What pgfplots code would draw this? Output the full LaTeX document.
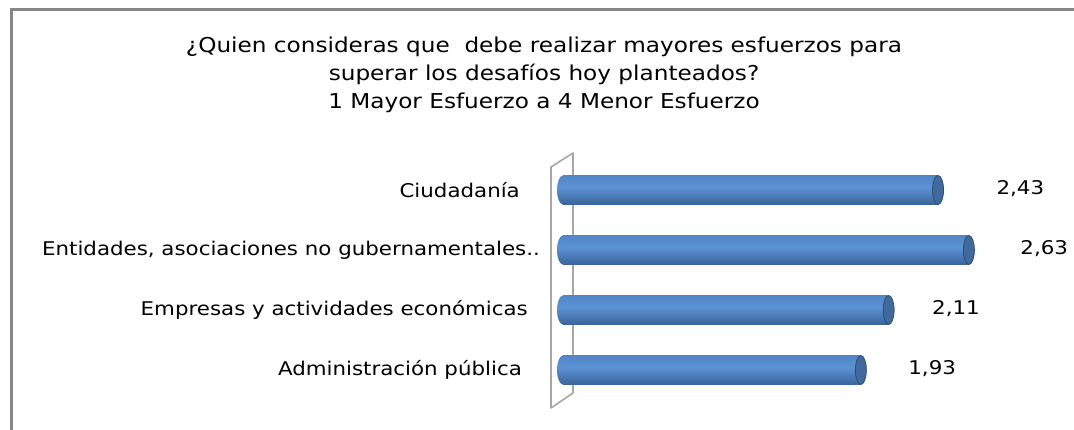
\documentclass[border=0pt]{standalone}
\usepackage{pgfplots}
\pgfplotsset{compat=1.18}
\usepackage{fontspec}
\setmainfont[FakeStretch=1.13]{DejaVu Sans}
\definecolor{bardark}{HTML}{1F3A60}
\definecolor{barlow}{HTML}{345C8F}
\definecolor{barlight}{HTML}{5C93D6}
\definecolor{barmid}{HTML}{4E82C2}
\definecolor{bartop}{HTML}{3A6294}
\definecolor{capcol}{HTML}{41699C}
\definecolor{capdark}{HTML}{2C4D78}
\definecolor{framegray}{HTML}{878787}
\definecolor{wallgray}{HTML}{A6A6A6}
\pgfdeclareverticalshading{cyl}{100bp}{color(0bp)=(bardark); color(20bp)=(barlow); color(55bp)=(barlight); color(80bp)=(barmid); color(100bp)=(bartop)}
\pgfdeclareplotmark{rcap}{\pgfpathellipse{\pgfpointorigin}{\pgfpoint{5.5pt}{0pt}}{\pgfpoint{0pt}{14.5pt}}\pgfusepath{fill,stroke}}
\pgfdeclareplotmark{lcap}{\pgfpathellipse{\pgfpointorigin}{\pgfpoint{6pt}{0pt}}{\pgfpoint{0pt}{14.5pt}}\pgfshadepath{cyl}{0}\pgfusepath{}}
\newcommand{\bigfont}{\fontsize{20.5}{28}\selectfont}
\newcommand{\lblfont}{\fontsize{18.9}{24}\selectfont}
\pgfplotsset{cylbar/.style={xbar, bar width=29pt, bar shift=0pt, draw=none, shading=cyl,
  nodes near coords,
  every node near coord/.append style={anchor=west, yshift=1pt, font=\lblfont, text=black,
    /pgf/number format/fixed, /pgf/number format/fixed zerofill, /pgf/number format/precision=2,
    /pgf/number format/use comma, /pgf/number format/assume math mode=true}}}
\begin{document}
\begin{tikzpicture}
\useasboundingbox (0,0) rectangle (1074pt,429pt);
\fill[white] (0,0) rectangle (1074pt,429pt);
\draw[framegray, line width=3pt] (11pt,-20pt) -- (11pt,419pt) -- (1090pt,419pt);
\node[align=center, font=\bigfont, anchor=center] at (544pt,354pt)
  {¿Quien consideras que\ \ debe realizar mayores esfuerzos para\\superar los desafíos hoy planteados?\\1 Mayor Esfuerzo a 4 Menor Esfuerzo};
\draw[wallgray, line width=1.6pt, line join=round] (551pt,262pt) -- (573pt,276pt) -- (573pt,36pt) -- (551pt,21pt) -- cycle;
\begin{axis}[
  at={(563pt,29pt)}, anchor=south west,
  scale only axis, width=463pt, height=240pt,
  xmin=0, xmax=3, ymin=-0.5, ymax=3.5,
  axis line style={draw=none},
  xtick=\empty,
  ytick={0,1,2,3},
  yticklabels={Administración pública\kern18pt,Empresas y actividades económicas\kern12pt,{Entidades, asociaciones no gubernamentales..},Ciudadanía\kern20pt},
  major tick length=0pt,
  yticklabel style={anchor=east, inner sep=0pt, xshift=-23pt, font=\lblfont},
  clip=false,
  /pgf/number format/assume math mode=true,
]
\addplot[only marks, mark=lcap] coordinates {(0,0) (0,1) (0,2) (0,3)};
\addplot[cylbar, every node near coord/.append style={xshift=44pt}] coordinates {(1.93,0)};
\addplot[cylbar, every node near coord/.append style={xshift=40pt}] coordinates {(2.11,1)};
\addplot[cylbar, every node near coord/.append style={xshift=48pt}] coordinates {(2.63,2)};
\addplot[cylbar, every node near coord/.append style={xshift=55pt}] coordinates {(2.43,3)};
\addplot[only marks, mark=rcap, mark options={fill=capcol, draw=capdark, line width=0.8pt}]
  coordinates {(1.93,0) (2.11,1) (2.63,2) (2.43,3)};
\end{axis}
\end{tikzpicture}
\end{document}
